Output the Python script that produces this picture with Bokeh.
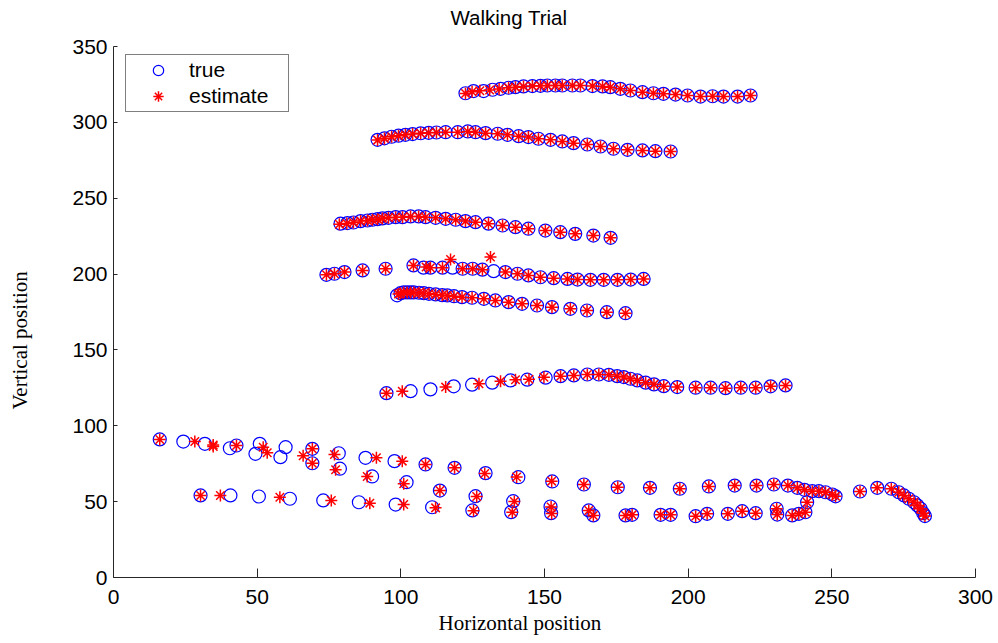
from bokeh.embed import file_html
from bokeh.models import FixedTicker, Legend, LegendItem, Range1d, Title
from bokeh.plotting import figure
from bokeh.resources import INLINE

# ---------------- tracked positions (true vs. estimated) ----------------
# walker 1 (top, ~320)
t1_true_x = [122.5, 125.3, 128.8, 131.9, 134.7, 137.5, 139.9, 142.7, 145.8, 148.6, 151.0, 153.8, 156.2, 159.7, 162.5,
             166.7, 170.2, 172.9, 176.4, 179.9, 184.1, 187.9, 191.4, 195.6, 199.8, 204.3, 208.5, 212.3, 217.2, 221.7]
t1_true_y = [319.2, 320.6, 320.6, 321.5, 322.1, 322.8, 323.2, 323.7, 323.9, 324.1, 324.3, 324.3, 324.3, 324.3, 324.3,
             323.9, 323.7, 323.2, 322.1, 321.0, 319.9, 319.2, 318.8, 318.3, 317.7, 317.0, 317.2, 317.0, 317.0, 317.7]
t1_est_x = [122.5, 124.8, 127.5, 130.9, 134.2, 137.5, 139.9, 142.7, 145.8, 148.6, 151.0, 153.8, 156.2, 159.7, 162.5,
            166.7, 170.2, 172.9, 176.4, 179.9, 184.1, 187.9, 191.4, 195.6, 199.8, 204.3, 208.5, 212.3, 217.2, 221.7]
t1_est_y = [319.0, 320.2, 320.8, 321.3, 322.0, 322.8, 323.2, 323.7, 323.9, 324.1, 324.3, 324.3, 324.3, 324.3, 324.3,
            323.9, 323.7, 323.2, 322.1, 321.0, 319.9, 319.2, 318.8, 318.3, 317.7, 317.0, 317.2, 317.0, 317.0, 317.7]

# walker 2 (~290)
t2_true_x = [91.9, 94.3, 96.8, 99.2, 101.6, 104.1, 106.9, 109.7, 112.4, 115.6, 119.8, 123.3, 126.0, 129.5, 133.7,
             137.1, 141.0, 144.4, 147.9, 152.1, 156.2, 160.1, 164.9, 169.5, 174.0, 178.9, 184.1, 188.6, 193.9]
t2_true_y = [288.5, 289.5, 290.5, 291.2, 291.8, 292.3, 292.8, 293.1, 293.3, 293.5, 293.5, 294.0, 293.5, 292.9, 292.5,
             291.8, 290.9, 290.3, 289.2, 288.5, 287.4, 286.3, 285.4, 284.1, 282.6, 281.9, 281.5, 281.0, 280.8]
t2_est_x = [91.9, 94.3, 96.8, 99.2, 101.6, 104.1, 106.9, 109.7, 112.4, 115.6, 119.8, 123.3, 126.0, 129.5, 133.7,
            137.1, 141.0, 144.4, 147.9, 152.1, 156.2, 160.1, 164.9, 169.5, 174.0, 178.9, 184.1, 188.6, 193.9]
t2_est_y = [288.3, 289.4, 290.5, 291.2, 291.8, 292.3, 292.8, 293.1, 293.3, 293.5, 293.5, 294.0, 293.5, 292.9, 292.5,
            291.8, 290.9, 290.3, 289.2, 288.5, 287.4, 286.3, 285.4, 284.1, 282.6, 281.9, 281.5, 281.0, 280.8]

# walker 3 (~235)
t3_true_x = [79.0, 81.4, 83.5, 86.0, 88.4, 90.1, 91.9, 93.6, 95.7, 98.2, 100.6, 103.4, 106.2, 108.6, 112.1, 115.6,
             119.1, 122.5, 126.0, 130.5, 135.4, 139.9, 144.4, 150.3, 155.5, 160.7, 167.0, 173.0]
t3_true_y = [233.2, 233.6, 234.0, 234.9, 235.3, 235.8, 236.2, 236.7, 237.1, 237.5, 237.5, 238.0, 238.0, 237.5, 237.1,
             236.4, 235.8, 234.9, 234.2, 233.2, 232.0, 230.9, 229.9, 228.7, 227.6, 226.5, 225.4, 223.9]
t3_est_x = [78.6, 81.2, 83.5, 86.0, 88.4, 90.1, 91.9, 93.6, 95.7, 98.2, 100.6, 103.4, 106.2, 108.6, 112.1, 115.6,
            119.1, 122.5, 126.0, 130.5, 135.4, 139.9, 144.4, 150.3, 155.5, 160.7, 167.0, 173.0]
t3_est_y = [232.8, 233.4, 234.0, 234.9, 235.3, 235.8, 236.2, 236.7, 237.1, 237.5, 237.5, 238.0, 238.0, 237.5, 237.1,
            236.4, 235.8, 234.9, 234.2, 233.2, 232.0, 230.9, 229.9, 228.7, 227.6, 226.5, 225.4, 223.9]

# walker 4 (~200), short lead-in piece and main piece
t4a_true_x = [74.1, 76.9, 80.4, 86.7, 94.7]
t4a_true_y = [199.5, 200.2, 201.3, 202.4, 203.5]
t4a_est_x = [74.1, 76.9, 80.4, 86.7, 94.7]
t4a_est_y = [199.5, 200.2, 201.3, 202.4, 203.5]
t4b_true_x = [104.4, 107.9, 110.3, 114.5, 118.0, 121.5, 125.0, 128.4, 132.3, 136.4, 140.6, 144.4, 148.6, 153.2,
              158.0, 161.5, 166.0, 170.6, 175.4, 180.0, 184.5]
t4b_true_y = [205.7, 204.2, 204.2, 204.2, 204.2, 203.5, 203.5, 202.9, 201.9, 201.3, 200.2, 199.1, 197.9, 197.3,
              196.8, 196.4, 196.2, 196.2, 196.2, 196.4, 196.8]
t4b_est_x = [104.4, 108.8, 110.3, 114.5, 117.3, 121.5, 125.0, 128.4, 131.2, 136.4, 140.6, 144.4, 148.6, 153.2,
             158.0, 161.5, 166.0, 170.6, 175.4, 180.0, 184.5]
t4b_est_y = [205.7, 204.6, 204.2, 204.2, 209.6, 203.5, 203.5, 202.9, 211.2, 201.3, 200.2, 199.1, 197.9, 197.3,
             196.8, 196.4, 196.2, 196.2, 196.2, 196.4, 196.8]

# walker 5 (~185)
t5_true_x = [98.7, 99.9, 101.0, 102.2, 103.4, 104.5, 106.3, 108.0, 109.8, 112.1, 114.4, 116.2, 118.5, 121.3, 124.8,
             128.9, 132.9, 137.5, 142.2, 147.4, 152.6, 159.0, 164.8, 171.7, 178.2]
t5_true_y = [186.0, 187.4, 187.9, 187.9, 187.9, 187.9, 187.7, 187.4, 187.0, 186.6, 186.1, 185.9, 185.4, 184.8, 184.4,
             183.7, 182.6, 181.5, 180.4, 179.3, 178.2, 177.1, 176.0, 174.9, 174.2]
t5_est_x = [99.2, 99.9, 101.0, 102.2, 103.4, 104.5, 106.3, 108.0, 109.8, 112.1, 114.4, 116.2, 118.5, 121.3, 124.8,
            128.9, 132.9, 137.5, 142.2, 147.4, 152.6, 159.0, 164.8, 171.7, 178.2]
t5_est_y = [186.8, 187.4, 187.9, 187.9, 187.9, 187.9, 187.7, 187.4, 187.0, 186.6, 186.1, 185.9, 185.4, 184.8, 184.4,
            183.7, 182.6, 181.5, 180.4, 179.3, 178.2, 177.1, 176.0, 174.9, 174.2]

# walker 6 (~125)
t6_true_x = [95.0, 103.4, 110.3, 118.4, 124.8, 131.8, 138.2, 144.0, 150.4, 155.6, 160.2, 164.9, 168.9, 172.4, 175.3,
             177.6, 179.9, 182.3, 185.2, 188.1, 191.5, 196.2, 202.6, 207.8, 213.0, 218.3, 223.5, 228.7, 233.9]
t6_true_y = [121.5, 122.8, 124.0, 126.0, 127.1, 128.4, 129.9, 130.4, 131.7, 132.7, 133.2, 133.8, 133.8, 133.6, 132.7,
             132.1, 131.0, 129.9, 128.4, 127.3, 126.1, 125.5, 125.1, 125.1, 124.8, 125.1, 125.1, 126.0, 126.6]
t6_est_x = [95.0, 100.5, 115.6, 127.2, 134.7, 139.9, 144.6, 149.8, 155.6, 160.2, 164.9, 168.9, 172.4, 175.3,
            177.6, 179.9, 182.3, 185.2, 188.1, 191.5, 196.2, 202.6, 207.8, 213.0, 218.3, 223.5, 228.7, 233.9]
t6_est_y = [121.5, 122.8, 125.5, 127.7, 129.4, 130.3, 130.7, 132.0, 132.7, 133.2, 133.8, 133.8, 133.6, 132.7,
            132.1, 131.0, 129.9, 128.4, 127.3, 126.1, 125.5, 125.1, 125.1, 124.8, 125.1, 125.1, 126.0, 126.6]

# walker 7 (bottom, starting ~90)
b1_true_x = [16.1, 24.3, 31.8, 42.8, 50.9, 59.9, 69.2, 78.4, 87.7, 97.8, 108.6, 118.7, 129.5, 140.9, 152.7, 163.7,
             175.5, 186.7, 197.1, 207.2, 216.2, 223.8, 229.8, 234.7, 238.0, 240.5, 243.2, 245.5, 247.8, 250.2, 251.3]
b1_true_y = [91.0, 89.6, 88.1, 87.0, 88.1, 85.9, 84.8, 81.9, 78.9, 76.7, 74.5, 72.3, 68.8, 66.1, 63.3, 61.3,
             59.5, 59.1, 58.5, 60.0, 60.6, 60.6, 61.3, 60.6, 59.1, 57.8, 56.9, 56.9, 56.2, 54.7, 53.5]
b1_est_x = [16.1, 28.3, 34.7, 42.8, 52.1, 69.2, 76.9, 91.5, 100.5, 108.6, 118.7, 129.2, 140.3, 152.5, 163.7,
            175.5, 186.7, 197.1, 207.2, 216.2, 223.8, 229.8, 234.7, 238.0, 240.5, 243.2, 245.5, 247.8, 250.2, 251.3]
b1_est_y = [91.0, 89.6, 87.3, 87.0, 85.9, 84.8, 81.1, 78.9, 76.7, 74.5, 72.3, 68.6, 66.3, 63.5, 61.3,
            59.5, 59.1, 58.5, 60.0, 60.6, 60.6, 61.3, 60.6, 59.1, 57.8, 56.9, 56.9, 56.2, 54.7, 53.5]

# walker 8 (bottom, starting ~85, crossing downwards)
b2_true_x = [40.5, 49.4, 58.1, 69.2, 78.8, 90.0, 102.0, 113.6, 126.0, 139.1, 152.1, 165.4, 178.2, 190.4, 202.6,
             213.8, 223.5, 231.0, 238.5, 241.4]
b2_true_y = [85.2, 81.5, 79.3, 75.3, 71.7, 66.6, 62.8, 57.3, 53.6, 50.3, 46.8, 44.2, 40.9, 41.3, 40.4,
             42.0, 42.4, 41.5, 42.0, 49.6]
b2_est_x = [34.7, 53.5, 66.0, 69.2, 77.3, 88.3, 101.0, 113.6, 126.4, 139.5, 152.3, 165.4, 178.2, 190.4, 202.6,
            213.8, 223.5, 231.0, 238.5, 241.4]
b2_est_y = [86.4, 82.2, 80.2, 75.3, 71.0, 66.6, 61.8, 57.3, 53.4, 50.1, 46.5, 44.2, 40.9, 41.3, 40.4,
            42.0, 42.4, 41.5, 42.0, 49.6]

# walker 9 (bottom, ~54 down to ~41)
b3_true_x = [30.3, 40.7, 50.6, 61.4, 73.0, 85.4, 98.2, 110.9, 124.9, 138.4, 152.3, 167.0, 180.5, 193.9, 206.6,
             218.8, 230.8, 236.2, 240.8]
b3_true_y = [54.1, 54.1, 53.4, 51.9, 50.8, 49.6, 48.1, 46.3, 44.2, 43.1, 42.4, 40.9, 41.3, 41.3, 42.0,
             43.7, 45.3, 40.9, 43.0]
b3_est_x = [30.3, 37.2, 57.9, 75.8, 89.2, 101.0, 112.1, 125.3, 138.8, 152.5, 167.0, 180.5, 193.9, 206.6,
            218.8, 230.8, 236.2, 240.8]
b3_est_y = [54.1, 54.1, 52.9, 50.8, 49.0, 48.1, 45.9, 44.0, 43.0, 42.2, 40.9, 41.3, 41.3, 42.0,
            43.7, 45.3, 40.9, 43.0]

# walker 10 (right edge, curving down)
b4_true_x = [259.8, 265.8, 270.7, 273.3, 275.1, 276.8, 278.6, 279.8, 280.9, 281.8, 282.4]
b4_true_y = [56.7, 59.1, 58.5, 56.2, 54.1, 51.9, 49.6, 47.5, 45.3, 42.4, 40.5]
b4_est_x = [259.8, 265.8, 270.7, 273.3, 275.1, 276.8, 278.6, 279.8, 280.9, 281.8, 282.4]
b4_est_y = [56.7, 59.1, 58.5, 56.2, 54.1, 51.9, 49.6, 47.5, 45.3, 42.4, 40.5]

x_ticks = [0, 50, 100, 150, 200, 250, 300]
y_ticks = [0, 50, 100, 150, 200, 250, 300, 350]


def joined(*parts):
    out = []
    for part in parts:
        out.extend(part)
    return out


true_x = joined(t1_true_x, t2_true_x, t3_true_x, t4a_true_x, t4b_true_x, t5_true_x, t6_true_x,
                b1_true_x, b2_true_x, b3_true_x, b4_true_x)
true_y = joined(t1_true_y, t2_true_y, t3_true_y, t4a_true_y, t4b_true_y, t5_true_y, t6_true_y,
                b1_true_y, b2_true_y, b3_true_y, b4_true_y)
est_x = joined(t1_est_x, t2_est_x, t3_est_x, t4a_est_x, t4b_est_x, t5_est_x, t6_est_x,
               b1_est_x, b2_est_x, b3_est_x, b4_est_x)
est_y = joined(t1_est_y, t2_est_y, t3_est_y, t4a_est_y, t4b_est_y, t5_est_y, t6_est_y,
               b1_est_y, b2_est_y, b3_est_y, b4_est_y)

AXIS_COLOR = "#262626"
SANS = "Liberation Sans"
SERIF = "Liberation Serif"

p = figure(width=998, height=643, output_backend="svg", toolbar_location=None,
           x_range=Range1d(0, 300), y_range=Range1d(0, 350),
           min_border_left=113, min_border_right=23, min_border_top=46, min_border_bottom=66)
p.outline_line_color = None
p.grid.visible = False
p.background_fill_color = "white"
p.border_fill_color = "white"

r_true = p.scatter(true_x, true_y, marker="circle", size=13, fill_color=None,
                   line_color="#0000FF", line_width=1.2)
r_est = p.scatter(est_x, est_y, marker="asterisk", size=12,
                  line_color="#FF0000", line_width=1.5)

for ax in (p.xaxis[0], p.yaxis[0]):
    ax.axis_line_color = AXIS_COLOR
    ax.major_tick_line_color = AXIS_COLOR
    ax.minor_tick_line_color = None
    ax.major_tick_out = 0
    ax.major_label_text_font = SANS
    ax.major_label_text_font_size = "21px"
    ax.major_label_text_color = "black"

p.xaxis.ticker = FixedTicker(ticks=x_ticks)
p.yaxis.ticker = FixedTicker(ticks=y_ticks)
p.xaxis.major_tick_in = 9
p.yaxis.major_tick_in = 4
p.xaxis.major_label_standoff = 12
p.yaxis.major_label_standoff = 6


def gap(size):
    """Blank title used only to pad a side panel by a fixed amount."""
    return Title(text=" ", text_font_size="1px", standoff=size)


# title above the frame (a blank pad sits between it and the frame)
p.add_layout(gap(7.8), "above")
p.add_layout(Title(text="Walking Trial", align="left", offset=337, vertical_align="top", standoff=9,
                   text_font=SANS, text_font_size="20.5px", text_font_style="normal", text_color="black"),
             "above")

# axis captions (serif)
p.add_layout(Title(text="Horizontal position", align="left", offset=325, vertical_align="bottom", standoff=4,
                   text_font=SERIF, text_font_size="21px", text_font_style="normal", text_color="black"),
             "below")
p.add_layout(gap(30.8), "left")
p.add_layout(Title(text="Vertical position", align="left", offset=168, vertical_align="top", standoff=4,
                   text_font=SERIF, text_font_size="21px", text_font_style="normal", text_color="black"),
             "left")

legend = Legend(items=[LegendItem(label="true", renderers=[r_true]),
                       LegendItem(label="estimate", renderers=[r_est])],
                location=(12, 465), padding=2, spacing=0,
                glyph_width=60, glyph_height=26, label_height=26, label_width=97, label_standoff=1,
                border_line_color="black", border_line_width=1,
                background_fill_color="white", background_fill_alpha=1.0,
                label_text_font=SANS, label_text_font_size="21px", label_text_color="black")
p.add_layout(legend)

open("out.html", "w").write(file_html(p, INLINE))
